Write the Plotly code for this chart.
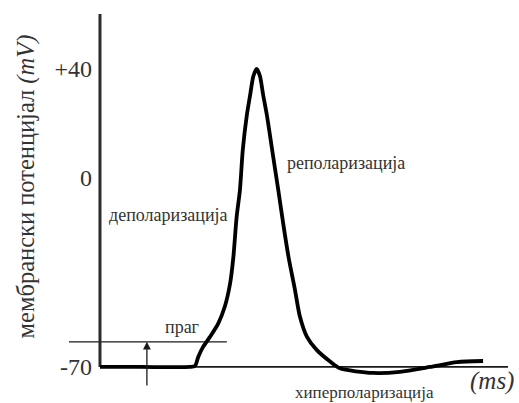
import plotly.graph_objects as go

# Action potential trace (time in ms, membrane potential in mV)
time_ms = [0.0, 1.0, 2.2, 2.33, 2.41, 2.53, 2.70, 2.90, 3.06, 3.19, 3.27, 3.35, 3.43, 3.50,
           3.60, 3.68, 3.76, 3.84, 3.92, 4.00, 4.09, 4.22, 4.37, 4.49, 4.62, 4.78,
           4.90, 5.07, 5.31, 5.64, 5.88, 6.69, 7.35, 8.09, 8.75, 9.39]
potential_mv = [-70.0, -70.0, -70.0, -69.6, -66.2, -62.5, -58.8, -53.9, -47.7, -39.1, -29.3, -14.5, -4.7, 10.1,
                23.0, 30.4, 37.4, 40.0, 37.4, 30.4, 23.0, 10.1, -4.7, -17.0, -29.3, -41.6,
                -51.4, -58.8, -63.7, -68.0, -70.5, -72.2, -71.8, -70.0, -68.2, -67.8]

resting_mv = -70
threshold_mv = -60.7
threshold_span = [-0.76, 3.11]
axis_top_mv = 60.3
time_end = 10.0

tick_vals = [40, 0, -70]
tick_text = ["+40", "0", "-70"]

labels = {
    "праг": (2.01, -55.2, 18),
    "деполаризација": (1.68, -13.9, 18),
    "реполаризација": (6.02, 5.3, 18),
    "хиперполаризација": (6.48, -79.6, 17),
}

SERIF = "Liberation Serif, Times New Roman, serif"
INK = "#1a1a1a"

fig = go.Figure()

fig.add_trace(go.Scatter(x=threshold_span, y=[threshold_mv, threshold_mv], mode="lines",
                         line=dict(color=INK, width=1.3), hoverinfo="skip", showlegend=False))
fig.add_trace(go.Scatter(x=[0, time_end], y=[resting_mv, resting_mv], mode="lines",
                         line=dict(color=INK, width=1.8), hoverinfo="skip", showlegend=False))
fig.add_trace(go.Scatter(x=[0, 0], y=[resting_mv, axis_top_mv], mode="lines",
                         line=dict(color="#2a2a2a", width=3), hoverinfo="skip", showlegend=False))
fig.add_trace(go.Scatter(x=time_ms, y=potential_mv, mode="lines",
                         line=dict(color="black", width=3.8, shape="spline", smoothing=0.7),
                         hoverinfo="skip", showlegend=False))

for txt, (x, y, s) in labels.items():
    fig.add_annotation(x=x, y=y, text=txt, showarrow=False,
                       font=dict(family=SERIF, size=s, color="#333"))

fig.add_annotation(x=1.15, y=threshold_mv, ax=1.15, ay=-77.4, axref="x", ayref="y",
                   text="", showarrow=True, arrowhead=2, arrowsize=1.2, arrowwidth=1.3,
                   arrowcolor=INK)

fig.add_annotation(x=9.62, y=-75.3, text="<i>(ms)</i>", showarrow=False,
                   font=dict(family=SERIF, size=25, color="#333"))

fig.add_annotation(xref="paper", x=-0.108, y=-3.2, text="мембрански потенцијал <i>(mV)</i>",
                   textangle=-90, showarrow=False,
                   font=dict(family=SERIF, size=24.5, color="#333"))

fig.update_layout(
    width=519, height=403,
    margin=dict(l=60, r=0, t=14, b=0),
    paper_bgcolor="white", plot_bgcolor="white",
    xaxis=dict(range=[-0.98, 10.27], visible=False),
    yaxis=dict(range=[-83.3, 60.3], anchor="free", position=40 / 459,
               tickvals=tick_vals, ticktext=tick_text, ticks="", showgrid=False,
               zeroline=False, showline=False, ticklabelstandoff=8,
               tickfont=dict(family=SERIF, size=24, color="#333")),
    yaxis2=dict(range=[-83.3, 60.3], overlaying="y", anchor="free", position=40 / 459,
                tickvals=[40], ticks="inside", ticklen=15, tickwidth=1.5, tickcolor="#333",
                showticklabels=False, showgrid=False, zeroline=False, showline=False),
)

fig.write_html("out.html", config={"displayModeBar": False},
               post_script="document.body.style.margin='0';")
